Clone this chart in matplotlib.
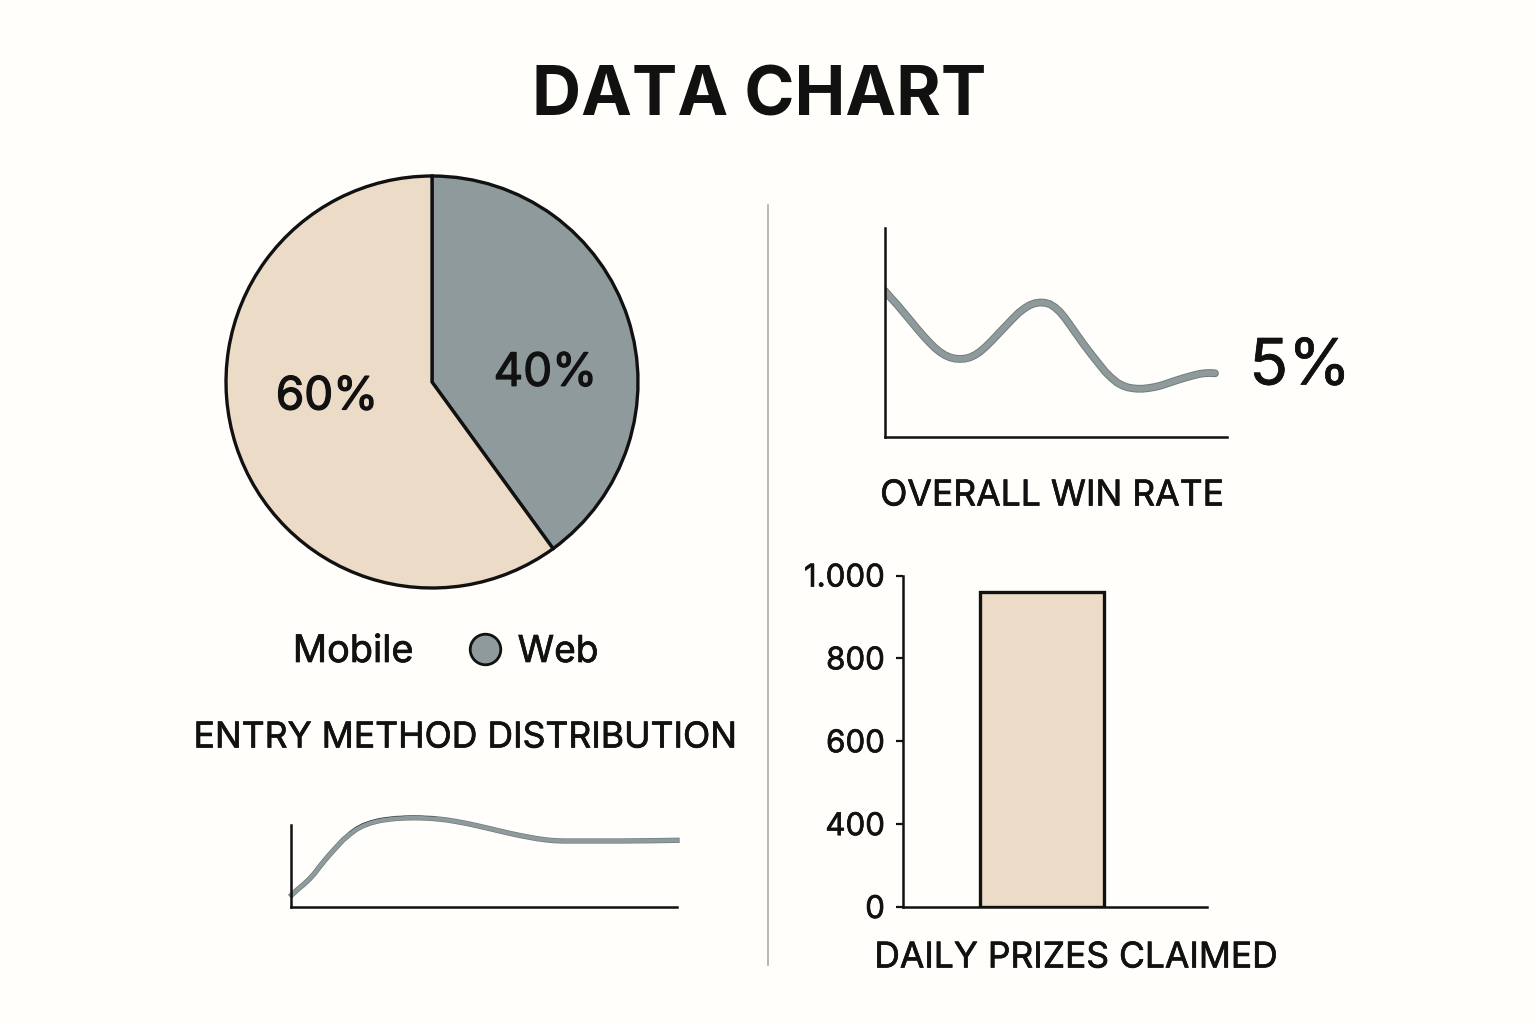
import numpy as np
import matplotlib
matplotlib.use("Agg")
import matplotlib.pyplot as plt
import matplotlib.patheffects as pe
from matplotlib.lines import Line2D

title = "DATA CHART"
pie_labels = ["Web", "Mobile"]
pie_values = [40, 60]
win_x = [0, 6, 12, 18, 25, 32, 38, 44, 50, 55, 60, 65, 70, 75, 80, 85, 90, 95, 101, 108, 115, 122,
         128, 134, 140, 145, 150, 155, 160, 165, 170, 175, 180, 185, 191, 197, 203, 208, 214, 220,
         226, 232, 237, 242, 247, 252, 258, 264, 270, 276, 283, 291, 300, 308, 314, 320, 325, 330]
win_y = [146, 139, 132.5, 125.3, 117, 108.5, 101.5, 95, 89, 85, 81.8, 79.6, 78.4, 78, 78.4, 79.6, 82, 85.3, 90.5, 97.5, 105, 112.3,
         118.6, 124.5, 129, 132, 133.8, 134.5, 134.2, 132.8, 129.6, 125, 119, 112, 103.5, 95, 87, 80.5, 73, 65.5,
         59.5, 54.5, 51.7, 49.8, 48.8, 48.3, 48.3, 49, 50, 51.5, 53.8, 56.5, 59.3, 61.5, 63, 63.8, 64, 63.7]
entry_x = [0.7, 6, 12, 18, 23, 28, 34, 40, 46, 52, 59, 65, 72, 80, 89, 98, 106, 114, 122, 130, 139, 147,
           156, 165, 176, 186, 196, 207, 219, 229, 239, 247, 256, 264, 272, 296, 329, 362, 386]
entry_y = [12, 17, 22, 27.5, 33, 39.5, 47, 54, 60.5, 67, 73, 77.5, 81.3, 84.2, 86.5, 87.8, 88.6, 89, 89.2, 89.1, 88.7, 88,
           87, 85.5, 83.5, 81.3, 79, 76.4, 73.6, 71.5, 69.6, 68.2, 67, 66.3, 66, 66, 66, 66.3, 66.7]
entry_dark_x = [59, 65, 72, 80, 89, 98, 106, 114, 122, 130, 139, 147]
entry_dark_y = [74.5, 79, 82.8, 85.5, 87.8, 89, 89.8, 90.2, 90.3, 90.2, 89.8, 89]
bar_categories = ["Daily prizes"]
bar_values = [960]
tick_values = [0, 400, 600, 800, 1000]
tick_labels = ["0", "400", "600", "800", "1.000"]

BG = "#fffefa"
BEIGE = "#ecdbc7"
GREY = "#8e9a9b"
EDGE = "#6f7d7c"
INK = "#111111"
plt.rcParams["font.family"] = ["Inter", "DejaVu Sans"]

W, H = 1536, 1024
fig = plt.figure(figsize=(W / 100, H / 100), dpi=100, facecolor=BG)
heavy = [pe.withStroke(linewidth=0.5, foreground=INK)]
heavier = [pe.withStroke(linewidth=0.9, foreground=INK)]


def box(x0, y0, x1, y1):
    return fig.add_axes([x0 / W, 1 - y1 / H, (x1 - x0) / W, (y1 - y0) / H], facecolor="none")


# Overlay in pixel coordinates for free-standing text
ov = fig.add_axes([0, 0, 1, 1], facecolor="none", zorder=5)
ov.set_xlim(0, W)
ov.set_ylim(H, 0)
ov.axis("off")


def label(x, y, s, size, effects=heavy, **kw):
    t = ov.text(x, y, s, ha="center", va="center", fontsize=size, color=INK, **kw)
    if effects:
        t.set_path_effects(effects)
    return t


label(759, 97, title, 49, effects=None, fontweight="bold")
ov.add_line(Line2D([768, 768], [205, 965], color="#a3a5a3", lw=1.1))

# Pie
axp = box(226, 176, 638, 588)
wedges, _, autotexts = axp.pie(
    pie_values, colors=[GREY, BEIGE], startangle=90, counterclock=False, radius=1,
    autopct="%.0f%%", wedgeprops=dict(edgecolor=INK, linewidth=2.4),
    textprops=dict(fontsize=33, color=INK),
)
axp.set_xlim(-1.0, 1.0)
axp.set_ylim(-1.0, 1.0)
autotexts[0].set_position((0.55, 0.04))
autotexts[1].set_position((-0.51, -0.075))
for t in autotexts:
    t.set_clip_on(False)
    t.set_path_effects(heavier)
for w in wedges:
    w.set_clip_on(False)

# Legend row
label(353, 652, "Mobile", 27.3)
ov.plot([485], [649], marker="o", ms=22, mfc=GREY, mec=INK, mew=2, ls="none")
label(558, 652, "Web", 26.7)
label(465, 738, "ENTRY METHOD DISTRIBUTION", 25.6)


def clean(ax):
    for s in ("top", "right"):
        ax.spines[s].set_visible(False)
    for s in ("left", "bottom"):
        ax.spines[s].set_linewidth(1.8)
        ax.spines[s].set_color(INK)


# Win-rate line
axw = box(885, 228, 1227, 437)
axw.set_xlim(0, 342)
axw.set_ylim(0, 209)
clean(axw)
axw.set_xticks([])
axw.set_yticks([])
axw.plot(win_x, win_y, color=EDGE, lw=5.6, solid_capstyle="round", solid_joinstyle="round")
axw.plot(win_x, win_y, color=GREY, lw=4.2, solid_capstyle="round", solid_joinstyle="round")
label(1300, 368, "5%", 46)
label(1052, 496, "OVERALL WIN RATE", 25.6)

# Entry line
axe = box(291, 825, 677, 907)
axe.set_xlim(0, 386)
axe.set_ylim(0, 82)
clean(axe)
axe.set_xticks([])
axe.set_yticks([])
axe.plot(entry_x, entry_y, color=EDGE, lw=3.8, solid_joinstyle="round", clip_on=False)
axe.plot(entry_dark_x, entry_dark_y, color=INK, lw=1.4, solid_capstyle="round", clip_on=False)
axe.plot(entry_x, entry_y, color=GREY, lw=2.8, solid_joinstyle="round", clip_on=False)

# Bar, on a y axis whose labelled ticks are evenly spaced
positions = np.arange(len(tick_values), dtype=float)
axb = box(903, 575.5, 1207, 907)
axb.set_yscale("function", functions=(
    lambda v: np.interp(v, tick_values, positions),
    lambda p: np.interp(p, positions, tick_values),
))
axb.bar([0], bar_values, width=124 / 304 * 2.0, color=BEIGE, edgecolor=INK, linewidth=2.4)
axb.set_xlim(-(980 + 62 - 903) / 304 * 2.0, (1207 - 980 - 62) / 304 * 2.0)
axb.set_ylim(0, 1000)
clean(axb)
axb.set_xticks([])
axb.set_yticks(tick_values)
axb.set_yticklabels(tick_labels, fontsize=22.5, color=INK, path_effects=heavy)
axb.minorticks_off()
axb.tick_params(axis="y", length=5, width=1.6, color=INK, pad=8)
label(1076, 958, "DAILY PRIZES CLAIMED", 25.5)

fig.savefig("out.png", dpi=100, facecolor=BG)
